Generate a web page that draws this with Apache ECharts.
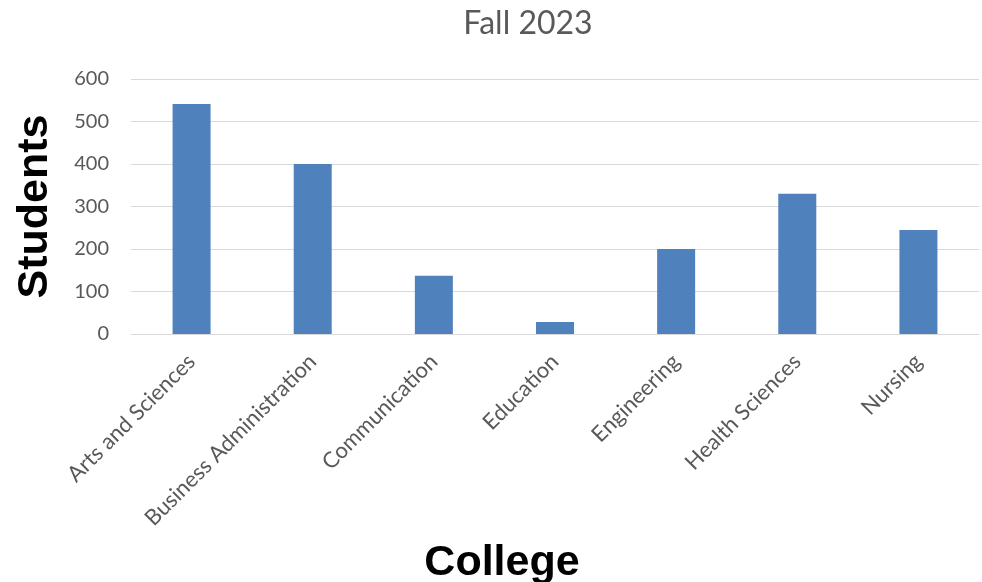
<!DOCTYPE html>
<html>
<head>
<meta charset="utf-8">
<script src="https://cdn.jsdelivr.net/npm/echarts@6/dist/echarts.min.js"></script>
<style>
  html, body { margin: 0; padding: 0; background: #ffffff; }
  #chart { width: 982px; height: 582px; }
</style>
</head>
<body>
<div id="chart"></div>
<script>
// Enrollment by college, Fall 2023
const colleges = [
  'Arts and Sciences',
  'Business Administration',
  'Communication',
  'Education',
  'Engineering',
  'Health Sciences',
  'Nursing'
];
const students = [541, 400, 137, 28, 200, 330, 245];
const yTicks = { min: 0, max: 600, interval: 100 };

const gray = '#595959';
const chart = echarts.init(document.getElementById('chart'), null, { renderer: 'canvas' });

chart.setOption({
  animation: false,
  backgroundColor: '#ffffff',
  title: [
    {
      text: 'Fall 2023',
      left: 523,
      top: 3,
      textAlign: 'center',
      textStyle: { fontFamily: 'Lato', fontWeight: 'normal', fontSize: 32, color: gray }
    },
    {
      text: 'College',
      left: 497,
      top: 537,
      textAlign: 'center',
      textStyle: { fontFamily: 'Liberation Sans', fontWeight: 'bold', fontSize: 43, color: '#000000' }
    }
  ],
  grid: { left: 131, right: 3, top: 79, bottom: 248, containLabel: false, outerBoundsMode: 'none' },
  xAxis: {
    type: 'category',
    data: colleges,
    axisLine: { show: true, lineStyle: { color: '#d9d9d9', width: 1 } },
    axisTick: { show: false },
    axisLabel: {
      rotate: 45,
      margin: 24,
      interval: 0,
      fontFamily: 'Lato',
      fontSize: 22,
      color: gray
    }
  },
  yAxis: {
    type: 'value',
    min: yTicks.min,
    max: yTicks.max,
    interval: yTicks.interval,
    name: 'Students',
    nameLocation: 'middle',
    nameRotate: 90,
    nameGap: 74,
    nameMoveOverlap: false,
    nameTextStyle: { fontFamily: 'Liberation Sans', fontWeight: 'bold', fontSize: 43, color: '#000000' },
    axisLine: { show: false },
    axisTick: { show: false },
    splitLine: { show: true, lineStyle: { color: '#d9d9d9', width: 1 } },
    axisLabel: { margin: 22, fontFamily: 'Lato', fontSize: 20, color: gray }
  },
  series: [
    {
      type: 'bar',
      data: students,
      barWidth: 38,
      itemStyle: { color: '#4f81bd' }
    }
  ]
});
</script>
</body>
</html>
